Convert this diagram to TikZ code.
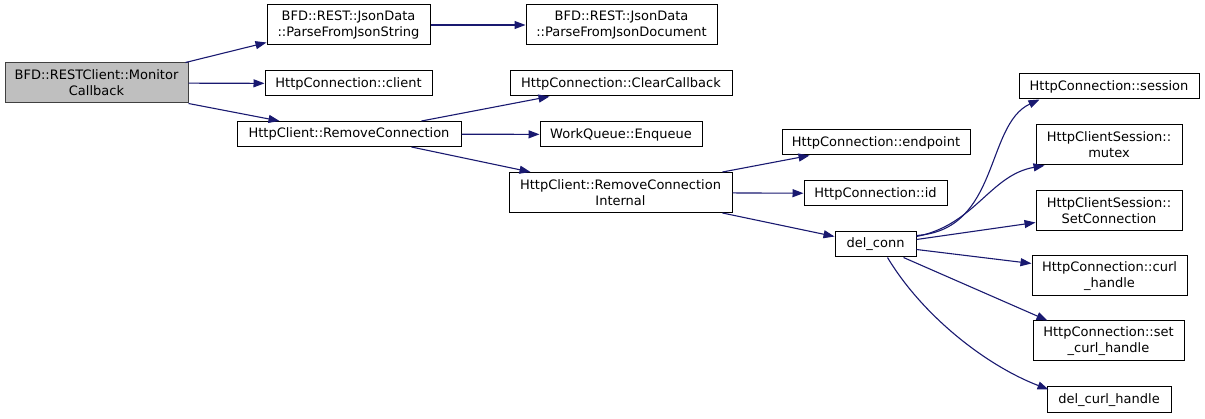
\documentclass[tikz,border=0pt]{standalone}
\usepackage{fontspec}
\setmainfont{DejaVu Sans}
\usetikzlibrary{arrows.meta}
\definecolor{edgeblue}{HTML}{191970}
\definecolor{rootgray}{HTML}{BFBFBF}

\begin{document}
\begin{tikzpicture}[x=1pt, y=-1pt, >={Triangle[length=11pt,width=8pt]},
    fn/.style={draw=black, line width=1pt, fill=white, inner sep=0pt, align=center,
      font=\fontsize{13}{16}\selectfont, minimum height=25pt},
    tall/.style={minimum height=40pt},
    root/.style={fn, tall, fill=rootgray, draw=black!75},
    call/.style={->, draw=edgeblue, line width=1.1pt},
    every edge/.style={call}]
  \useasboundingbox (0,0) rectangle (1205,419);
  % caller
  \node[root, minimum width=183pt] (mon) at (96.5,83) {BFD::RESTClient::Monitor\\Callback};
  % first level
  \node[fn, tall, minimum width=163pt] (pjs) at (348.5,25) {BFD::REST::JsonData\\::ParseFromJsonString};
  \node[fn, minimum width=167pt] (cli) at (348.5,83.5) {HttpConnection::client};
  \node[fn, minimum width=224pt] (rmc) at (349,134) {HttpClient::RemoveConnection};
  % second level
  \node[fn, tall, minimum width=191pt] (pjd) at (621.5,25) {BFD::REST::JsonData\\::ParseFromJsonDocument};
  \node[fn, minimum width=222pt] (clr) at (621,83.5) {HttpConnection::ClearCallback};
  \node[fn, minimum width=162pt] (enq) at (621,134.5) {WorkQueue::Enqueue};
  \node[fn, tall, minimum width=223pt] (rci) at (620.5,192.5) {HttpClient::RemoveConnection\\Internal};
  % third level
  \node[fn, minimum width=188pt] (ept) at (876,142.5) {HttpConnection::endpoint};
  \node[fn, minimum width=143pt] (hid) at (875.5,193.5) {HttpConnection::id};
  \node[fn, minimum width=81pt] (dlc) at (875.5,244.5) {del\_conn};
  % fourth level
  \node[fn, minimum width=180pt] (ses) at (1109,86.5) {HttpConnection::session};
  \node[fn, tall, minimum width=146pt] (mtx) at (1109,145) {HttpClientSession::\\mutex};
  \node[fn, tall, minimum width=146pt] (scn) at (1109,211) {HttpClientSession::\\SetConnection};
  \node[fn, tall, minimum width=155pt] (cuh) at (1109.5,276) {HttpConnection::curl\\\_handle};
  \node[fn, tall, minimum width=151pt] (sch) at (1108.5,341) {HttpConnection::set\\\_curl\_handle};
  \node[fn, minimum width=124pt, minimum height=26pt] (dch) at (1109,400) {del\_curl\_handle};

  \path ([xshift=-3pt]mon.north east) edge ([yshift=3pt]pjs.south west)
    (mon) edge (cli)
    (mon.south east) edge ([xshift=43pt]rmc.north west)
    (pjs) edge (pjd)
    ([xshift=-40pt]rmc.north east) edge ([xshift=40pt]clr.south west)
    (rmc) edge (enq)
    ([xshift=-50pt]rmc.south east) edge ([xshift=22pt]rci.north west)
    ([xshift=-10pt]rci.north east) edge ([xshift=28pt]ept.south west)
    (rci) edge (hid)
    ([xshift=-10pt]rci.south east) edge ([yshift=-5pt]dlc.north west)
    ([yshift=-8pt]dlc.north east) edge ([yshift=9pt]scn.south west)
    ([yshift=-5pt]dlc.east) edge ([yshift=-8pt]cuh.north west)
    ([xshift=-13pt]dlc.south east) edge ([xshift=15pt]sch.north west);
  \draw[call] ([yshift=-4pt]dlc.north east) .. controls (1000,230) and (985,125) .. ([xshift=21pt]ses.south west);
  \draw[call] ([yshift=-5pt]dlc.north east) .. controls (975,225) and (990,175) .. ([xshift=9pt]mtx.south west);
  \draw[call] ([xshift=-29pt]dlc.south east) .. controls (922,315) and (985,365) .. ([xshift=2pt,yshift=-3pt]dch.north west);
\end{tikzpicture}
\end{document}
